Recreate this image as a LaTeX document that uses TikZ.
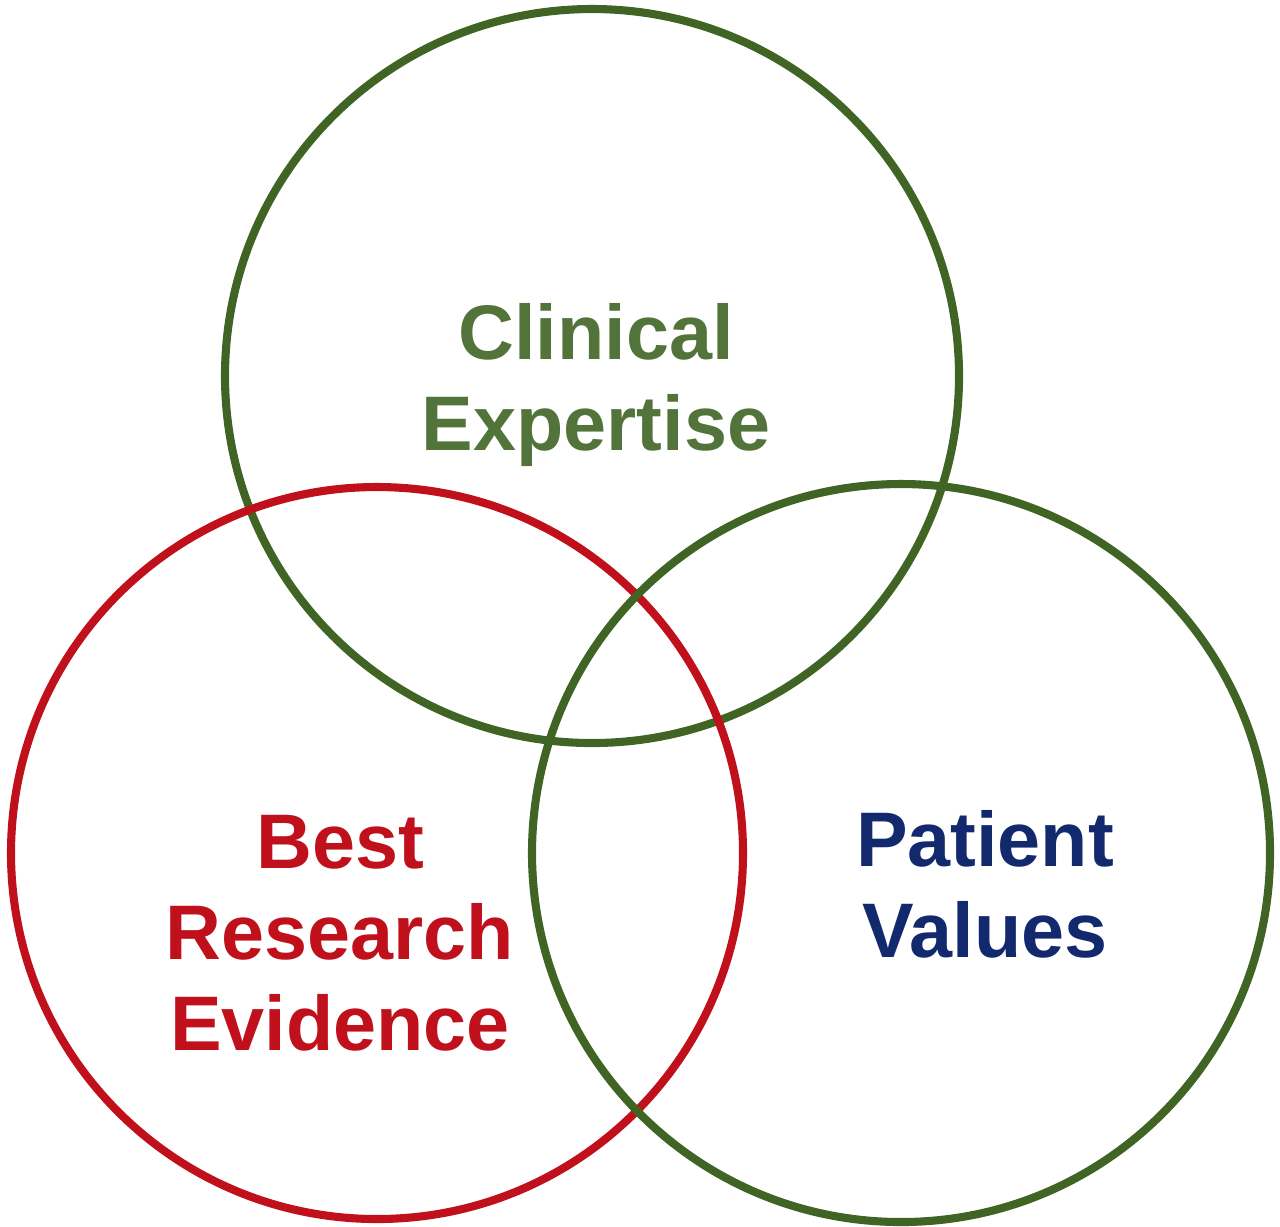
\documentclass[tikz,border=0pt]{standalone}
\usepackage{fontspec}
\setmainfont{Liberation Sans}
\definecolor{ebmgreen}{HTML}{3F6424}
\definecolor{ebmred}{HTML}{C0101C}
\definecolor{ebmblue}{HTML}{13296E}
\tikzset{
  ring/.style={line width=2.3pt},
  label/.style={align=center,font=\bfseries\fontsize{22}{25.8}\selectfont,anchor=base}
}
\begin{document}
\begin{tikzpicture}[x=0.01cm,y=-0.01cm]
  \useasboundingbox (0,0) rectangle (1280,1226);
  % Three circles
  \draw[ring,ebmgreen] (592,376) circle[radius=367];
  \draw[ring,ebmred] (377,853) circle[radius=366];
  \draw[ring,ebmgreen] (901,853) circle[radius=369];
  % Labels (anchored at the last line)
  \node[label,text=ebmgreen!90!white] (clinical) at (596,450) {Clinical\\Expertise};
  \node[label,text=ebmred] (research) at (340,1050) {Best\\Research\\Evidence};
  \node[label,text=ebmblue] (patient) at (985,957) {Patient\\Values};
\end{tikzpicture}
\end{document}
